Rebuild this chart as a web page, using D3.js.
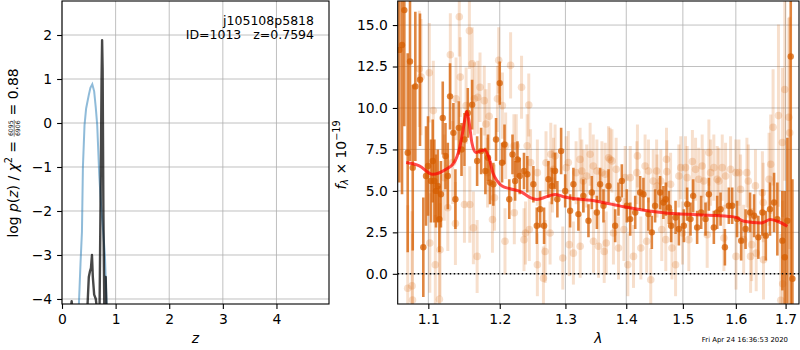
<!DOCTYPE html>
<html>
<head>
<meta charset="utf-8">
<script src="https://cdn.jsdelivr.net/npm/d3@7"></script>
<style>
  body { margin: 0; background: #fff; }
  text { white-space: pre; }
</style>
</head>
<body>
<div id="chart"></div>
<script>
// redshift fit figure: log p(z) on the left, 1D spectrum + model on the right

// ---- left panel data
var pzBlueZ    = [0.30, 0.317, 0.345, 0.372, 0.39, 0.42, 0.45, 0.50, 0.53, 0.565, 0.60, 0.63, 0.657, 0.695, 0.73, 0.77, 0.80, 0.83, 0.845];
var pzBlueLogp = [-5.0, -4.06, -3.2, -2.47, -1.0, -0.05, 0.33, 0.64, 0.80, 0.88, 0.72, 0.35, -0.05, -1.18, -1.9, -2.5, -3.0, -4.06, -5.0];
var pzBlackZ    = [0.16, 0.18, 0.20, 0.47, 0.50, 0.52, 0.54, 0.559, 0.575, 0.60, 0.63, 0.66, 0.70, 0.725, 0.738, 0.748, 0.758, 0.772, 0.79, 0.805, 0.815, 0.83];
var pzBlackLogp = [-4.3, -4.05, -4.3, -4.3, -3.5, -3.38, -3.3, -3.0, -3.5, -3.9, -4.0, -4.3, -4.3, -1.0, 1.0, 1.88, 1.2, -2.0, -4.3, -4.3, -3.5, -4.3];
var leftXTicks = [0, 1, 2, 3, 4];
var leftYTicks = [-4, -3, -2, -1, 0, 1, 2];
var titleLines = ["j105108p5818", "ID=1013   z=0.7594"];

// ---- right panel data (flux in 1e-19)
var specDarkWave = [1.0618, 1.0653, 1.0683, 1.0727, 1.0757, 1.0793, 1.0827, 1.0889, 1.0933, 1.0969,
  1.0996, 1.1036, 1.1059, 1.1081, 1.1103, 1.1127, 1.1149, 1.117, 1.1195, 1.1232,
  1.1264, 1.1295, 1.1341, 1.1369, 1.1416, 1.1454, 1.1495, 1.1542, 1.1603, 1.1674,
  1.1731, 1.1792, 1.183, 1.1859, 1.1907, 1.1946, 1.2, 1.2034, 1.207, 1.214,
  1.2188, 1.2227, 1.2262, 1.2296, 1.236, 1.241, 1.2502, 1.2554, 1.2605, 1.2666,
  1.2733, 1.2786, 1.2837, 1.2873, 1.2932, 1.2996, 1.3074, 1.3127, 1.3207, 1.3287,
  1.337, 1.3425, 1.3508, 1.3561, 1.3617, 1.3701, 1.3812, 1.3868, 1.3925, 1.401,
  1.4068, 1.4154, 1.4239, 1.4296, 1.4384, 1.4443, 1.4501, 1.459, 1.4648, 1.4691,
  1.4746, 1.4787, 1.4867, 1.4927, 1.5018, 1.5078, 1.514, 1.5189, 1.5263, 1.5338,
  1.542, 1.5483, 1.5577, 1.5641, 1.5705, 1.5788, 1.5864, 1.5929, 1.6025, 1.6104,
  1.6191, 1.628, 1.636, 1.6445, 1.6526, 1.6595, 1.668, 1.6763, 1.683, 1.6933,
  1.6983, 1.7037, 1.7107, 1.7142];
var specDarkFlux = [13.5, 13.8, 15.9, 7.3, 12.8, 6.4, 11.3, 11.7, 1.6, 5.9,
  6.5, 5.6, 6.8, 5.6, 5.0, 5.3, 3.3, 4.8, 9.4, 7.1,
  5.9, 10.7, 8.5, 4.5, 8.8, 7.5, 8.1, 9.7, 10.2, 6.8,
  7.4, 6.2, 7.0, 5.5, 5.4, 8.1, 11.5, 6.7, 7.8, 4.5,
  7.2, 5.6, 6.9, 5.9, 6.2, 6.0, 5.4, 2.9, 3.9, 2.9,
  5.7, 5.3, 6.2, 4.5, 7.4, 5.0, 3.8, 5.4, 3.6, 4.7,
  3.2, 4.9, 3.7, 5.4, 4.1, 5.3, 2.9, 4.5, 5.6, 4.1,
  3.3, 3.7, 4.9, 4.8, 3.6, 2.5, 4.1, 4.9, 4.3, 4.5,
  4.0, 2.9, 3.4, 2.7, 2.9, 4.2, 3.3, 4.7, 2.8, 3.7,
  3.3, 4.8, 2.8, 3.7, 3.9, 1.6, 4.1, 4.1, 3.3, 2.0,
  2.7, 3.7, 3.5, 2.2, 3.7, 2.3, 3.9, 4.3, 3.3, 2.0,
  1.0, 3.2, 13.1, -0.3];
var specDarkErr = [8, 9, 7, 6, 6, 5, 4.5, 4, 3, 3,
  3, 2.5, 2.5, 2.5, 2.2, 2.2, 2, 2, 2.2, 2,
  2, 2, 1.8, 1.8, 1.6, 1.6, 1.6, 1.5, 1.5, 1.5,
  1.4, 1.4, 1.4, 1.3, 1.3, 1.3, 1.3, 1.2, 1.2, 1.2,
  1.2, 1.2, 1.1, 1.1, 1.1, 1.1, 1.1, 1.1, 1.1, 1.1,
  1.1, 1.1, 1.1, 1.1, 1.4, 1.0, 1.0, 1.0, 1.0, 1.0,
  1.0, 1.0, 1.0, 1.0, 1.0, 1.0, 1.0, 1.0, 1.0, 1.0,
  1.0, 1.0, 1.0, 1.0, 1.0, 1.0, 1.0, 1.0, 1.0, 1.0,
  1.0, 1.0, 1.0, 1.0, 1.0, 1.0, 1.0, 1.0, 1.0, 1.0,
  1.0, 1.0, 1.0, 1.0, 1.0, 1.1, 1.1, 1.1, 1.1, 1.2,
  1.2, 1.2, 1.3, 1.3, 1.4, 1.5, 1.6, 1.8, 2.2, 3.0,
  4.0, 5.0, 18, 6];

var specLightWave = [1.0727, 1.0784, 1.079, 1.088, 1.0903, 1.1013, 1.102, 1.1067, 1.1094, 1.1149,
  1.1158, 1.1216, 1.1264, 1.1299, 1.1331, 1.1369, 1.1378, 1.1423, 1.1437, 1.1495,
  1.1518, 1.1564, 1.157, 1.1603, 1.1621, 1.1635, 1.1674, 1.1683, 1.1715, 1.1776,
  1.18, 1.1823, 1.1846, 1.1894, 1.1923, 1.1966, 1.1985, 1.2039, 1.2077, 1.2087,
  1.216, 1.2209, 1.2215, 1.2244, 1.2323, 1.236, 1.2383, 1.2408, 1.2432, 1.244,
  1.2563, 1.2656, 1.2682, 1.277, 1.2812, 1.2837, 1.2958, 1.3046, 1.3061, 1.3127,
  1.3262, 1.3287, 1.3397, 1.3508, 1.3535, 1.3591, 1.3629, 1.3663, 1.3701, 1.3758,
  1.3868, 1.4027, 1.4068, 1.4124, 1.4192, 1.4251, 1.4384, 1.4424, 1.4528, 1.4535,
  1.4602, 1.4619, 1.4691, 1.4704, 1.471, 1.4802, 1.4867, 1.4962, 1.4993, 1.5078,
  1.5175, 1.5293, 1.5387, 1.5483, 1.5577, 1.5673, 1.5801, 1.5898, 1.6, 1.6092,
  1.6153, 1.6245, 1.629, 1.6402, 1.6526, 1.6661, 1.6695, 1.6743, 1.6853, 1.69,
  1.6933, 1.694, 1.6983, 1.7066, 1.7085,
  // second beam, middle of the band
  1.2459, 1.2563, 1.2696, 1.2759, 1.2796, 1.3012, 1.317, 1.3234, 1.3236, 1.3341,
  1.3449, 1.3452, 1.3646, 1.3727, 1.3783, 1.3829, 1.396, 1.3982, 1.4182, 1.4325,
  1.4353, 1.4468, 1.4777, 1.4927, 1.5048, 1.5109, 1.5234, 1.5357, 1.5451, 1.5515,
  1.5641, 1.5737, 1.5769, 1.6003, 1.606, 1.6217, 1.6312, 1.6387, 1.6543, 1.6548];
var specLightFlux = [-0.87, -0.73, -1.58, 12.36, 11.86, 12.12, 1.86, 9.84, 0.55, -1.53,
  1.45, 5.8, 3.98, 13.21, 6.71, 3.03, 10.55, 15.5, 11.86, 4.18,
  10.14, 14.65, 4.18, 12.67, 2.77, 10.55, 1.05, 10.65, 11.25, 10.44,
  9.03, 6.1, 9.5, 3.27, 4.59, 10.55, 12.87, 10.14, 1.96, 7.72,
  12.57, 7.72, 3.68, 7.72, 11.25, 2.06, 2.46, 7.72, 10.18, 2.67,
  0.55, -0.26, 1.35, 7.21, 6.3, 7.11, 0.95, 6.71, 1.76, 1.25,
  6.2, 5.6, 7.21, 6.2, 1.66, 6.1, 1.35, 1.86, 7.0, 6.81,
  1.56, 0.55, 5.8, 1.05, 7.11, 1.56, 6.2, -0.36, 6.2, 5.29,
  5.6, 2.67, 2.06, 6.91, 6.16, 1.56, 0.55, 6.4, 2.46, 5.8,
  6.77, 5.7, 5.6, 7.31, 6.4, 5.6, 5.9, 6.3, 6.1, 5.09,
  2.06, 5.6, 1.05, 1.25, 4.89, 5.7, 6.61, 8.83, 9.54, -1.6,
  7.92, -0.6, 11.11, 9.44, 8.5,
  6.71, 6.1, 6.7, 2.46, 5.6, 6.4, 6.1, 6.9, 1.66, 5.9,
  6.5, 1.96, 6.0, 6.9, 2.46, 6.3, 2.67, 5.8, 6.1, 6.5,
  1.96, 5.6, 5.4, 5.9, 6.4, 2.06, 6.3, 6.5, 2.36, 6.1,
  5.7, 6.4, 2.16, 1.05, 6.1, 6.1, 1.76, 5.3, 4.3, 0.85];
var specLightErr = [5, 4.5, 4, 3.5, 3.5, 3, 3, 3, 3, 2.8,
  2.8, 2.6, 2.6, 2.5, 2.5, 2.5, 2.5, 2.4, 2.4, 2.3,
  2.3, 2.3, 2.3, 2.2, 2.2, 2.2, 2.2, 2.2, 2.1, 2.1,
  2.1, 2.1, 2.0, 2.0, 2.0, 2.0, 2.0, 2.0, 2.0, 2.0,
  2.0, 1.9, 1.9, 1.9, 1.9, 1.9, 1.9, 1.9, 1.9, 1.9,
  1.9, 1.9, 1.9, 1.9, 1.9, 1.9, 1.9, 1.9, 1.9, 1.9,
  1.9, 1.9, 1.9, 1.9, 1.9, 1.9, 1.9, 1.9, 1.9, 1.9,
  1.9, 1.9, 1.9, 1.9, 1.9, 1.9, 1.9, 1.9, 1.9, 1.9,
  1.9, 1.9, 1.9, 1.9, 1.9, 1.9, 1.9, 1.9, 1.9, 1.9,
  1.9, 1.9, 1.9, 2.0, 2.0, 2.0, 2.0, 2.0, 2.0, 2.1,
  2.1, 2.2, 2.2, 2.3, 2.5, 2.8, 3.0, 3.5, 5.5, 4,
  4.5, 5, 5.5, 6, 7,
  2.0, 2.0, 1.9, 1.9, 1.9, 1.9, 1.9, 1.9, 1.9, 1.9,
  1.9, 1.9, 1.9, 1.9, 1.9, 1.9, 1.9, 1.9, 1.9, 1.9,
  1.9, 1.9, 1.9, 1.9, 1.9, 1.9, 1.9, 1.9, 2.0, 2.0,
  2.0, 2.0, 2.0, 2.0, 2.0, 2.1, 2.2, 2.2, 2.4, 2.4];

var modelWave = [1.0707, 1.088, 1.1059, 1.1239, 1.1352, 1.1423, 1.147, 1.1501, 1.1529, 1.1561,
  1.1599, 1.1655, 1.1725, 1.1786, 1.1843, 1.19, 1.1963, 1.2034, 1.2152, 1.2323,
  1.2456, 1.2554, 1.2837, 1.2968, 1.3508, 1.396, 1.4648, 1.5263, 1.5864, 1.6,
  1.616, 1.6509, 1.6688, 1.683, 1.7037];
var modelFlux = [6.71, 6.51, 6.0, 6.3, 6.71, 7.52, 8.53, 9.33, 9.78, 9.13,
  7.92, 7.31, 7.41, 7.47, 7.01, 6.1, 5.6, 5.29, 5.13, 4.93,
  4.59, 4.48, 4.79, 4.65, 4.38, 4.04, 3.68, 3.56, 3.46, 3.4,
  3.17, 3.07, 3.27, 3.17, 2.87];
var rightXTicks = [1.1, 1.2, 1.3, 1.4, 1.5, 1.6, 1.7];
var rightYTicks = [0, 2.5, 5, 7.5, 10, 12.5, 15];
var stampText = "Fri Apr 24 16:36:53 2020";


var W = 800, H = 350;
var FS = 13.9;   // 10pt at 100 dpi
var G141 = "#d55e00";

var svg = d3.select("#chart").append("svg")
    .attr("width", W).attr("height", H)
    .style("font-family", "'DejaVu Sans', sans-serif");

var boxL = {x0: 62, x1: 329, y0: 1, y1: 304};
var boxR = {x0: 397.7, x1: 799, y0: 1, y1: 304};

var xL = d3.scaleLinear().domain([0, 4.98]).range([boxL.x0, boxL.x1]);
var yL = d3.scaleLinear().domain([-4.114, 2.773]).range([boxL.y1, boxL.y0]);
var xR = d3.scaleLog().domain([1.0597, 1.728]).range([boxR.x0, boxR.x1]);
var yR = d3.scaleLinear().domain([-1.82, 16.45]).range([boxR.y1, boxR.y0]);

var defs = svg.append("defs");
function addClip(id, b) {
    defs.append("clipPath").attr("id", id).append("rect")
        .attr("x", b.x0).attr("y", b.y0).attr("width", b.x1 - b.x0).attr("height", b.y1 - b.y0);
}
addClip("clipL", boxL);
addClip("clipR", boxR);

function grid(b, x, y, xt, yt) {
    var g = svg.append("g").attr("class", "grid");
    g.selectAll(".gx").data(xt).enter().append("line")
        .attr("x1", d => x(d)).attr("x2", d => x(d))
        .attr("y1", b.y0).attr("y2", b.y1)
        .attr("stroke", "#b0b0b0").attr("stroke-width", 0.8);
    g.selectAll(".gy").data(yt).enter().append("line")
        .attr("y1", d => y(d)).attr("y2", d => y(d))
        .attr("x1", b.x0).attr("x2", b.x1)
        .attr("stroke", "#b0b0b0").attr("stroke-width", 0.8);
}

function axes(b, x, y, xt, yt, xfmt, yfmt) {
    var ax = svg.append("g").attr("transform", "translate(0," + b.y1 + ")")
        .call(d3.axisBottom(x).tickValues(xt).tickFormat(xfmt).tickSize(4.9).tickPadding(4.9));
    var ay = svg.append("g").attr("transform", "translate(" + b.x0 + ",0)")
        .call(d3.axisLeft(y).tickValues(yt).tickFormat(yfmt).tickSize(4.9).tickPadding(4.9));
    [ax, ay].forEach(function(a) {
        a.select(".domain").remove();
        a.attr("font-family", null).attr("font-size", FS);
        a.selectAll("line").attr("stroke", "#000").attr("stroke-width", 1.1);
        a.selectAll("text").attr("fill", "#000");
    });
    svg.append("rect")
        .attr("x", b.x0).attr("y", b.y0)
        .attr("width", b.x1 - b.x0).attr("height", b.y1 - b.y0)
        .attr("fill", "none").attr("stroke", "#000").attr("stroke-width", 1.1);
}

// ---------- left panel
grid(boxL, xL, yL, leftXTicks, leftYTicks);

var pzLine = d3.line().x(d => xL(d[0])).y(d => yL(d[1]));
var gL = svg.append("g").attr("clip-path", "url(#clipL)");
gL.append("path")
    .datum(d3.zip(pzBlueZ, pzBlueLogp))
    .attr("d", pzLine)
    .attr("fill", "none").attr("stroke", "#1f77b4").attr("stroke-opacity", 0.5)
    .attr("stroke-width", 2);
gL.append("path")
    .datum(d3.zip(pzBlackZ, pzBlackLogp))
    .attr("d", pzLine)
    .attr("fill", "none").attr("stroke", "#000").attr("stroke-opacity", 0.72)
    .attr("stroke-width", 2.4).attr("stroke-linejoin", "round");

svg.selectAll(".ttl").data(titleLines).enter().append("text")
    .attr("x", 314).attr("y", (d, i) => 25 + i * 14.3)
    .attr("text-anchor", "end").attr("font-size", 12.5)
    .text(d => d);

axes(boxL, xL, yL, leftXTicks, leftYTicks, d3.format("d"), d3.format("d"));

svg.append("text")
    .attr("x", (boxL.x0 + boxL.x1) / 2).attr("y", 343)
    .attr("text-anchor", "middle").attr("font-size", FS).attr("font-style", "italic")
    .text("z");

// rotated y label: log p(z) / chi^2 = frac = 0.88
var ylab = svg.append("g");
var lx = 0;
function piece(txt, opt) {
    var t = ylab.append("text").attr("x", lx).attr("y", opt.y || 0)
        .attr("font-size", opt.fs || FS)
        .attr("font-style", opt.it ? "italic" : null)
        .text(txt);
    lx += t.node().getComputedTextLength() + (opt.pad || 0);
    return t;
}
piece("log ", {});
piece("p", {it: true});
piece("(", {});
piece("z", {it: true});
piece(") / ", {});
piece("\u03c7", {it: true});
piece("2", {fs: 9.7, y: -5.5});
piece(" = ", {});
var num = ylab.append("text").attr("font-size", 6.2).attr("y", -4.4).attr("text-anchor", "middle").text("6095");
var den = ylab.append("text").attr("font-size", 6.2).attr("y", 2.2).attr("text-anchor", "middle").text("6906");
var fw = Math.max(num.node().getComputedTextLength(), den.node().getComputedTextLength()) + 1;
num.attr("x", lx + fw / 2);
den.attr("x", lx + fw / 2);
ylab.append("line").attr("x1", lx).attr("x2", lx + fw).attr("y1", -3.3).attr("y2", -3.3)
    .attr("stroke", "#000").attr("stroke-width", 0.5);
lx += fw;
piece(" = 0.88", {});
ylab.attr("transform", "translate(17.5," + (153 + lx / 2) + ") rotate(-90)");

// ---------- right panel
grid(boxR, xR, yR, rightXTicks, rightYTicks);

var gR = svg.append("g").attr("clip-path", "url(#clipR)");

function errorbars(g, wave, flux, err, opac, r, bw) {
    var rows = wave.map((w, i) => ({w: w, f: flux[i], e: err[i]}));
    g.selectAll(null).data(rows).enter().append("line")
        .attr("x1", d => xR(d.w)).attr("x2", d => xR(d.w))
        .attr("y1", d => yR(d.f - d.e)).attr("y2", d => yR(d.f + d.e))
        .attr("stroke", G141).attr("stroke-opacity", opac).attr("stroke-width", bw);
    g.selectAll(null).data(rows).enter().append("circle")
        .attr("cx", d => xR(d.w)).attr("cy", d => yR(d.f)).attr("r", r)
        .attr("fill", G141).attr("fill-opacity", opac);
}
errorbars(gR.append("g"), specLightWave, specLightFlux, specLightErr, 0.2, 3.8, 3);
errorbars(gR.append("g"), specDarkWave, specDarkFlux, specDarkErr, 0.75, 3.2, 2.6);

gR.append("path")
    .datum(d3.zip(modelWave, modelFlux))
    .attr("d", d3.line().curve(d3.curveMonotoneX).x(d => xR(d[0])).y(d => yR(d[1])))
    .attr("fill", "none").attr("stroke", "#ff0000").attr("stroke-opacity", 0.7)
    .attr("stroke-width", 3).attr("stroke-linejoin", "round");

gR.append("line")
    .attr("x1", boxR.x0).attr("x2", boxR.x1)
    .attr("y1", yR(0)).attr("y2", yR(0))
    .attr("stroke", "#000").attr("stroke-width", 1.5).attr("stroke-dasharray", "1.5,2.5");

axes(boxR, xR, yR, rightXTicks, rightYTicks, d3.format(".1f"), d3.format(".1f"));

svg.append("text")
    .attr("x", (boxR.x0 + boxR.x1) / 2).attr("y", 343)
    .attr("text-anchor", "middle").attr("font-size", FS).attr("font-style", "italic")
    .text("\u03bb");

var flab = svg.append("text")
    .attr("transform", "translate(345.5,155) rotate(-90)")
    .attr("text-anchor", "middle").attr("font-size", FS);
flab.append("tspan").attr("font-style", "italic").text("f");
flab.append("tspan").attr("font-style", "italic").attr("font-size", 9.7).attr("dy", 2.5).text("\u03bb");
flab.append("tspan").attr("dy", -2.5).text(" \u00d7 10");
flab.append("tspan").attr("font-size", 9.7).attr("dy", -6).text("\u221219");

svg.append("text")
    .attr("x", 788).attr("y", 341.5)
    .attr("text-anchor", "end").attr("font-size", 6.9)
    .text(stampText);
</script>
</body>
</html>
